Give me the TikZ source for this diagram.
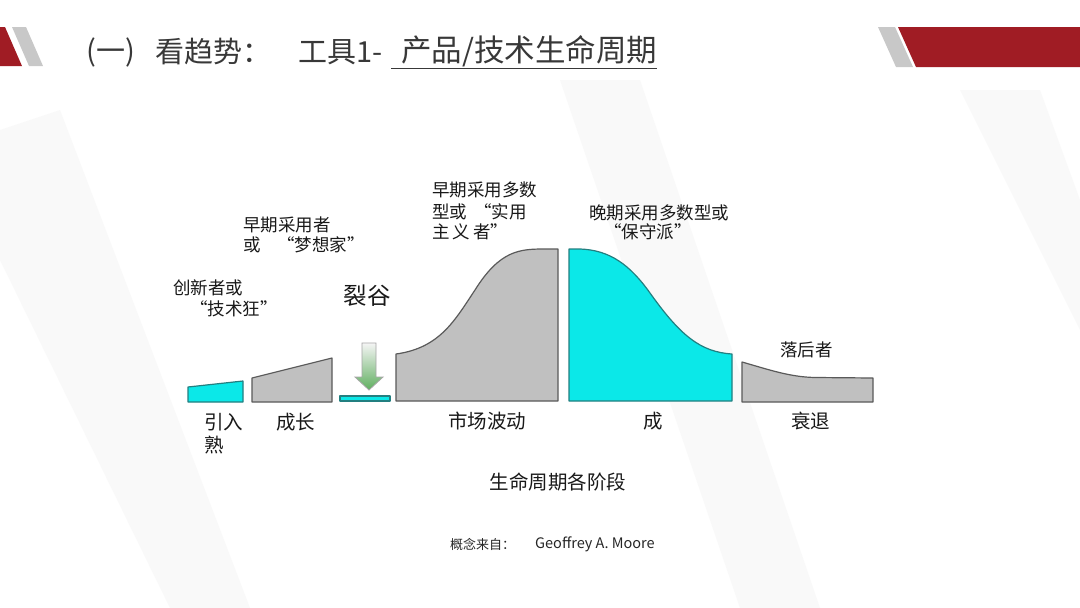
\documentclass[tikz,border=0pt]{standalone}
\usepackage{fontspec}
\newfontfamily\cjk{Noto Sans CJK SC}
\definecolor{titlegray}{HTML}{383838}
\definecolor{barred}{HTML}{A01C24}
\definecolor{bargray}{HTML}{C8C8C8}
\definecolor{shapegray}{HTML}{C0C0C0}
\definecolor{edgegray}{HTML}{5A5A5A}
\definecolor{cyanfill}{HTML}{0BE8E8}
\definecolor{cyanedge}{HTML}{237F80}
\definecolor{arrowgreen}{HTML}{5FAE5F}
\definecolor{bgband}{HTML}{F9F9F9}
\tikzset{
  lbl/.style={inner sep=0pt, text=black!90, font=\cjk\fontsize{17.5}{21}\selectfont},
  stage/.style={inner sep=0pt, text=black!90, font=\cjk\fontsize{19.5}{23}\selectfont},
  ttl/.style={inner sep=0pt, text=titlegray, font=\cjk\fontsize{29}{34}\selectfont, anchor=west},
  grayshape/.style={fill=shapegray, draw=edgegray, line width=1.2pt, line join=round},
  cyanshape/.style={fill=cyanfill, draw=cyanedge, line width=1.2pt, line join=round},
}
\begin{document}
\begin{tikzpicture}[x=1pt,y=-1pt]
\useasboundingbox (0,0) rectangle (1080,608);
\fill[white] (0,0) rectangle (1080,608);
% faint background bands
\fill[bgband] (0,130) -- (60,110) -- (250,608) -- (170,608) -- (0,260) -- cycle;
\fill[bgband] (560,80) -- (640,80) -- (820,608) -- (740,608) -- cycle;
\fill[bgband] (960,90) -- (1040,90) -- (1080,200) -- (1080,330) -- cycle;
% top decorations
\fill[barred] (0,27) -- (5,27) -- (22,66) -- (0,66) -- cycle;
\fill[bargray] (12,27) -- (26,27) -- (43,66) -- (29,66) -- cycle;
\fill[bargray] (878,27) -- (895,27) -- (913,67) -- (896,67) -- cycle;
\fill[barred] (898,27) -- (1080,27) -- (1080,67) -- (916,67) -- cycle;
% title
\node[ttl] (t1) at (86,52) {(一)};
\node[ttl] (t2) at (155,52) {看趋势：};
\node[ttl] (t3) at (298,52) {工具1-};
\node[ttl, font=\cjk\fontsize{30.5}{34}\selectfont] (t4) at (391,52) {\underline{\hspace{10pt}产品/技术生命周期}};
% curve shapes
\draw[cyanshape] (188,402) -- (188,387) -- (243,381) -- (243,402) -- cycle;
\draw[grayshape] (252,402) -- (252,378) -- (332,358) -- (332,402) -- cycle;
\draw[cyanshape] (340,396) rectangle (390,401);
\draw[grayshape] (396,401) -- (396,354) .. controls (440,348) and (455,320) .. (475,290)
   .. controls (500,250) and (520,249) .. (545,249) -- (558,249) -- (558,401) -- cycle;
\draw[cyanshape] (569,401) -- (569,249) -- (580,249) .. controls (610,250) and (630,265) .. (650,293)
   .. controls (680,335) and (700,352) .. (732,354) -- (732,401) -- cycle;
\draw[grayshape] (742,402) -- (742,362) .. controls (770,370) and (790,377) .. (815,377.5)
   -- (873,378) -- (873,402) -- cycle;
% chasm arrow
\draw[draw=gray!70, line width=0.8pt, top color=white!92!gray, bottom color=arrowgreen]
  (362,343) -- (376,343) -- (376,377) -- (383,377) -- (369,390) -- (355,377) -- (362,377) -- cycle;
% adopter labels
\node[lbl, anchor=west] (a1) at (173,288) {创新者或};
\node[lbl, anchor=west] (a2) at (190,309) {“技术狂”};
\node[lbl, anchor=west] (b1) at (243,225) {早期采用者};
\node[lbl, anchor=west] (b2) at (243,245) {或};
\node[lbl, anchor=west] (b3) at (277,245) {“梦想家”};
\node[inner sep=0pt, text=black!90, font=\cjk\fontsize{23.5}{27}\selectfont] (chasm) at (367,296) {裂谷};
\node[lbl, anchor=west] (c1) at (432,190) {早期采用多数};
\node[lbl, anchor=west] (c2) at (432,212) {型或};
\node[lbl, anchor=west] (c3) at (474,212) {“实用};
\node[lbl, anchor=west] (c4) at (432,232) {主\hspace{3pt}义\hspace{3pt}者”};
\node[lbl, anchor=west] (d1) at (589,213) {晚期采用多数型或};
\node[lbl, anchor=west] (d2) at (604,232) {“保守派”};
\node[lbl, anchor=west] (e1) at (780,350) {落后者};
% stage labels
\node[stage, anchor=west] (s1) at (204,422) {引入};
\node[stage, anchor=west] (s1b) at (204,445) {熟};
\node[stage, anchor=west] (s2) at (276,422) {成长};
\node[stage] (s3) at (487,421) {市场波动};
\node[stage] (s4) at (653,421) {成};
\node[stage, anchor=west] (s5) at (791,421) {衰退};
\node[stage] (axis) at (558,482) {生命周期各阶段};
\node[inner sep=0pt, anchor=west, text=black!85, font=\cjk\fontsize{13}{15}\selectfont] (src1) at (450,544) {概念来自：};
\node[inner sep=0pt, anchor=west, text=black!85, font=\cjk\fontsize{14.5}{16}\selectfont] (src2) at (535,544) {Geoffrey A. Moore};
\end{tikzpicture}
\end{document}
